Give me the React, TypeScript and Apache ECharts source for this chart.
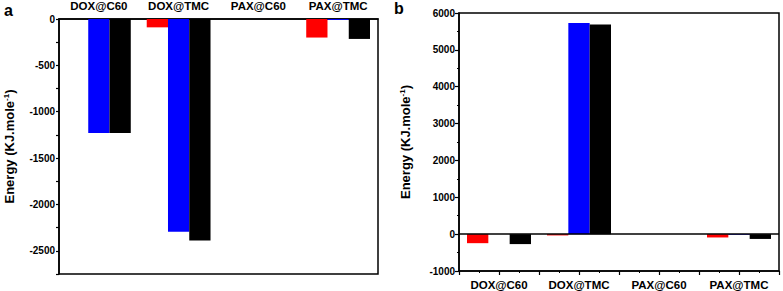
import React, { useEffect, useRef } from "react";
import * as echarts from "echarts";

const categories = ["DOX@C60", "DOX@TMC", "PAX@C60", "PAX@TMC"];

// Panel a values (KJ/mole)
const aRed = [0, -90, 0, -200];
const aBlue = [-1230, -2295, 0, -10];
const aBlack = [-1230, -2390, 0, -215];

// Panel b values (KJ/mole)
const bRed = [-245, -35, 0, -90];
const bBlue = [0, 5730, 0, -20];
const bBlack = [-270, 5690, 0, -130];

const seriesColors = ["#ff0000", "#0000ff", "#000000"];

const FONT = "'Liberation Sans', Arial, Helvetica, sans-serif";

export default function App() {
  const ref = useRef<HTMLDivElement>(null);

  useEffect(() => {
    if (!ref.current) return;
    const chart = echarts.init(ref.current, null, { renderer: "svg" });

    const nameRich = {
      a: { fontSize: 13, fontWeight: "bold", fontFamily: FONT, color: "#000" },
      s: { fontSize: 8, fontWeight: "bold", fontFamily: FONT, color: "#000", verticalAlign: "top", padding: [0, 0, 6, 0] },
    };
    const yName = "{a|Energy (KJ.mole}{s|-1}{a|)}";

    const axisLabelStyle = { fontSize: 10, fontWeight: "bold", fontFamily: FONT, color: "#000" };
    const catLabelStyle = { fontSize: 11.5, fontWeight: "bold", fontFamily: FONT, color: "#000" };
    const lineStyle = { color: "#000", width: 1.5 };

    const mkBar = (data: number[], color: string, xi: number, yi: number, extra: any = {}) => ({
      type: "bar",
      data,
      xAxisIndex: xi,
      yAxisIndex: yi,
      barGap: "0%",
      barCategoryGap: "20%",
      itemStyle: { color },
      ...extra,
    });

    chart.setOption({
      animation: false,
      backgroundColor: "#fff",
      grid: [
        { left: 59, top: 18, width: 319, height: 256, show: true, borderColor: "#000", borderWidth: 1.5, backgroundColor: "transparent" },
        { left: 459, top: 13, width: 320, height: 258, show: true, borderColor: "#000", borderWidth: 1.5, backgroundColor: "transparent" },
      ],
      graphic: [
        { type: "text", left: 4, top: 2, style: { text: "a", fontSize: 16, fontWeight: "bold", fontFamily: FONT, fill: "#000" } },
        { type: "text", left: 394, top: 0, style: { text: "b", fontSize: 16, fontWeight: "bold", fontFamily: FONT, fill: "#000" } },
      ],
      xAxis: [
        {
          type: "category",
          gridIndex: 0,
          data: categories,
          position: "top",
          axisLine: { onZero: false, lineStyle },
          axisTick: { show: false },
          axisLabel: { ...catLabelStyle, margin: 7 },
        },
        {
          type: "category",
          gridIndex: 1,
          data: categories,
          position: "bottom",
          axisLine: { onZero: false, lineStyle },
          axisTick: { show: false },
          axisLabel: { ...catLabelStyle, margin: 8 },
        },
        {
          type: "value",
          gridIndex: 1,
          position: "bottom",
          min: 0,
          max: 4,
          interval: 0.5,
          axisLine: { show: false, onZero: false },
          axisLabel: { show: false },
          splitLine: { show: false },
          axisTick: { show: true, length: 4, lineStyle: { color: "#000", width: 1.2 } },
          minorTick: { show: true, splitNumber: 2, length: 2, lineStyle: { color: "#000", width: 1 } },
        },
      ],
      yAxis: [
        {
          type: "value",
          gridIndex: 0,
          min: -2750,
          max: 0,
          interval: 250,
          name: yName,
          nameLocation: "middle",
          nameRotate: 90,
          nameGap: 43,
          nameTextStyle: { rich: nameRich },
          axisLine: { show: true, lineStyle },
          axisTick: { show: true, length: 3, lineStyle: { color: "#000", width: 1.2 } },
          axisLabel: {
            ...axisLabelStyle,
            margin: 4,
            formatter: (v: number) => (v % 500 === 0 ? String(v) : ""),
          },
          splitLine: { show: false },
        },
        {
          type: "value",
          gridIndex: 1,
          min: -1000,
          max: 6000,
          interval: 1000,
          name: yName,
          nameLocation: "middle",
          nameRotate: 90,
          nameGap: 47,
          nameTextStyle: { rich: nameRich },
          axisLine: { show: true, lineStyle },
          axisTick: { show: true, length: 4, lineStyle: { color: "#000", width: 1.2 } },
          minorTick: { show: true, splitNumber: 2, length: 2, lineStyle: { color: "#000", width: 1 } },
          axisLabel: { ...axisLabelStyle, margin: 4, formatter: (v: number) => String(v) },
          splitLine: { show: false },
        },
      ],
      series: [
        mkBar(aRed, seriesColors[0], 0, 0),
        mkBar(aBlue, seriesColors[1], 0, 0),
        mkBar(aBlack, seriesColors[2], 0, 0),
        mkBar(bRed, seriesColors[0], 1, 1, {
          markLine: {
            silent: true,
            symbol: "none",
            label: { show: false },
            lineStyle: { color: "#000", width: 1.5, type: "solid" },
            data: [{ yAxis: 0 }],
          },
        }),
        mkBar(bBlue, seriesColors[1], 1, 1),
        mkBar(bBlack, seriesColors[2], 1, 1),
      ],
    });

    return () => chart.dispose();
  }, []);

  return (
    <div
      ref={ref}
      style={{ position: "absolute", left: 0, top: 0, width: 783, height: 291, background: "#fff" }}
    />
  );
}
